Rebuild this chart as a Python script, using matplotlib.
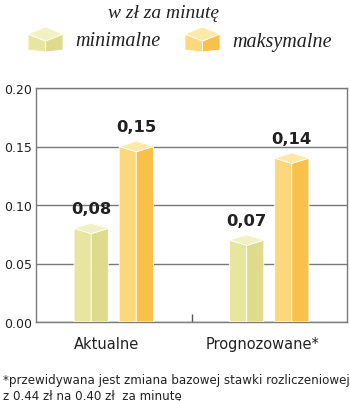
import matplotlib
matplotlib.use("Agg")
import matplotlib.pyplot as plt
from matplotlib.patches import Polygon
from matplotlib.ticker import FixedLocator
from matplotlib.transforms import ScaledTranslation

categories = ["Aktualne", "Prognozowane*"]
minimalne = [0.08, 0.07]
maksymalne = [0.15, 0.14]
value_labels_min = ["0,08", "0,07"]
value_labels_max = ["0,15", "0,14"]
yticks = [0.00, 0.05, 0.10, 0.15, 0.20]
ytick_labels = ["0.00", "0.05", "0.10", "0.15", "0.20"]
title = "w zł za minutę"
legend_labels = ["minimalne", "maksymalne"]
footnote = "*przewidywana jest zmiana bazowej stawki rozliczeniowej\nz 0.44 zł na 0.40 zł  za minutę"

# styles: (left face, right face, top face)
col_min = ("#e8e69e", "#dedb8c", "#f3f1c4")
col_max = ("#fdd77c", "#f9c14a", "#fee9a8")
text_col = "#222222"
grid_col = "#7a7a7a"

W, H = 350, 402
fig = plt.figure(figsize=(W / 100, H / 100), dpi=100)
ax = fig.add_axes([36 / W, 1 - 323 / H, 311 / W, 234 / H])
ax.set_xlim(-0.5, 1.5)
ax.set_ylim(0, 0.20)

bar_w = 0.22
offset = 0.145
depth = 0.0045


def draw_box(x_c, v, cols):
    l, r = x_c - bar_w / 2, x_c + bar_w / 2
    left = Polygon([(l, 0), (x_c, 0), (x_c, v - depth), (l, v)], closed=True,
                   facecolor=cols[0], edgecolor="white", lw=0.6, zorder=3)
    right = Polygon([(x_c, 0), (r, 0), (r, v), (x_c, v - depth)], closed=True,
                    facecolor=cols[1], edgecolor="white", lw=0.6, zorder=3)
    top = Polygon([(l, v), (x_c, v - depth), (r, v), (x_c, v + depth)], closed=True,
                  facecolor=cols[2], edgecolor="white", lw=0.6, zorder=4)
    for p in (left, right, top):
        ax.add_patch(p)


for i, cat in enumerate(categories):
    xm = i - offset
    xM = i + offset
    draw_box(xm, minimalne[i], col_min)
    draw_box(xM, maksymalne[i], col_max)
    ax.text(xm, minimalne[i] + depth + 0.006, value_labels_min[i], ha="center", va="bottom",
            fontsize=11.8, fontweight="bold", color=text_col, zorder=5)
    ax.text(xM, maksymalne[i] + depth + 0.006, value_labels_max[i], ha="center", va="bottom",
            fontsize=11.8, fontweight="bold", color=text_col, zorder=5)

ax.set_yticks(yticks)
ax.set_yticklabels(ytick_labels)
ax.yaxis.grid(True, color=grid_col, lw=1.0, zorder=1)
ax.set_axisbelow(True)
ax.tick_params(axis="y", length=0, pad=3, labelsize=9, labelcolor=text_col)

ax.set_xticks(range(len(categories)))
ax.set_xticklabels(categories)
ax.xaxis.set_minor_locator(FixedLocator([0.5]))
ax.tick_params(axis="x", which="major", length=0, pad=10, labelsize=10.5, labelcolor=text_col)
ax.tick_params(axis="x", which="minor", direction="in", length=6, width=1, color="#555555")
shift = ScaledTranslation(-7 / 100, 0, fig.dpi_scale_trans)
for lab in ax.get_xticklabels():
    lab.set_transform(lab.get_transform() + shift)

for s in ax.spines.values():
    s.set_color(grid_col)
    s.set_linewidth(1.0)

# legend header
serif = ["Liberation Serif", "DejaVu Serif"]
fig.text(163 / W, 1 - 13 / H, title, ha="center", va="center", fontsize=14,
         style="italic", family=serif, color=text_col)


def legend_icon(x0, cols):
    w = 35
    d = 7
    top_y = 28
    bot = 53
    xc = x0 + w / 2
    def P(x, y):
        return (x / W, 1 - y / H)
    left = Polygon([P(x0, bot - 2), P(xc, bot), P(xc, top_y + 2 * d), P(x0, top_y + d)],
                   closed=True, transform=fig.transFigure, facecolor=cols[0], edgecolor="white", lw=0.6)
    right = Polygon([P(xc, bot), P(x0 + w, bot - 2), P(x0 + w, top_y + d), P(xc, top_y + 2 * d)],
                    closed=True, transform=fig.transFigure, facecolor=cols[1], edgecolor="white", lw=0.6)
    top = Polygon([P(x0, top_y + d), P(xc, top_y + 2 * d), P(x0 + w, top_y + d), P(xc, top_y)],
                  closed=True, transform=fig.transFigure, facecolor=cols[2], edgecolor="white", lw=0.6)
    for p in (left, right, top):
        fig.add_artist(p)


legend_icon(28, col_min)
legend_icon(185, col_max)
fig.text(75 / W, 1 - 42 / H, legend_labels[0], ha="left", va="center", fontsize=14.5,
         style="italic", family=serif, color=text_col)
fig.text(232 / W, 1 - 42 / H, legend_labels[1], ha="left", va="center", fontsize=14.5,
         style="italic", family=serif, color=text_col)

fig.text(3 / W, 1 - 374 / H, footnote, ha="left", va="top", fontsize=8.6,
         color=text_col, linespacing=1.35)

fig.savefig("out.png", dpi=100, facecolor="white")
